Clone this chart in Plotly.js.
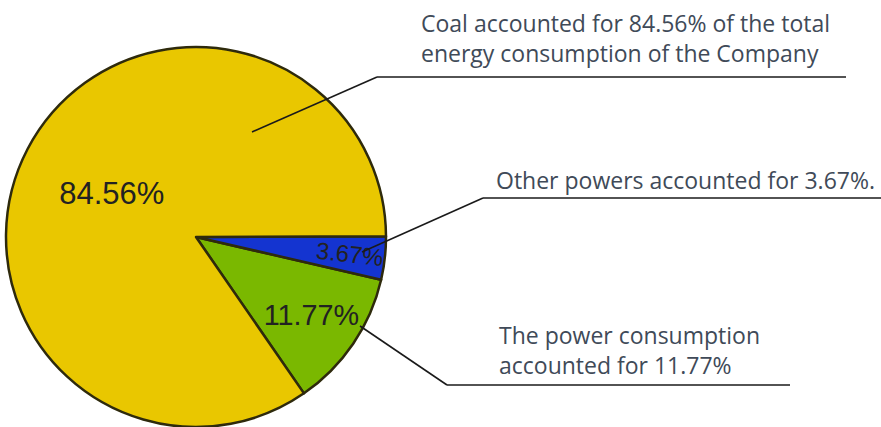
<!DOCTYPE html>
<html>
<head>
<meta charset="utf-8">
<script src="https://cdn.plot.ly/plotly-3.0.1.min.js"></script>
<style>
  html, body { margin: 0; padding: 0; background: #ffffff; }
  #chart { width: 881px; height: 427px; }
</style>
</head>
<body>
<div id="chart"></div>
<script>
// ---- data ----
var categories = ["Power consumption", "Other powers", "Coal"];
var shares = [11.77, 3.67, 84.56];
var sliceColors = ["#7AB800", "#1434D0", "#E9C700"];
var calloutTexts = [
  "Coal accounted for 84.56% of the total<br>energy consumption of the Company",
  "Other powers accounted for 3.67%.",
  "The power consumption<br>accounted for 11.77%"
];

var W = 881, H = 427;
function px(x) { return x / W; }
function py(y) { return 1 - y / H; }

var pieDomain = { x: [px(6), px(386)], y: [0, py(47)] };
var labelFont = { family: "Liberation Sans, Arial, sans-serif", size: 31, color: "#222222" };

// main pie: slices + horizontal labels for the two larger slices
var pieMain = {
  type: "pie",
  labels: categories,
  values: shares,
  sort: false,
  direction: "counterclockwise",
  rotation: 103,
  marker: { colors: sliceColors, line: { color: "#2e2a0c", width: 2.5 } },
  texttemplate: ["%{value}%", "", "%{value}%"],
  textposition: "inside",
  insidetextorientation: "horizontal",
  textfont: labelFont,
  hoverinfo: "label+percent",
  showlegend: false,
  domain: pieDomain
};

// same pie, transparent, only carrying the narrow slice's label (radial fit)
var pieLabel = {
  type: "pie",
  labels: categories,
  values: shares,
  sort: false,
  direction: "counterclockwise",
  rotation: 103,
  marker: { colors: ["rgba(0,0,0,0)", "rgba(0,0,0,0)", "rgba(0,0,0,0)"], line: { width: 0 } },
  texttemplate: ["", "%{value}%", ""],
  textposition: "inside",
  insidetextorientation: "radial",
  textfont: labelFont,
  hoverinfo: "skip",
  showlegend: false,
  domain: pieDomain
};

var lineStyle = { color: "#1a1a1a", width: 1.6 };
var shapes = [
  // coal callout
  { type: "line", xref: "paper", yref: "paper", x0: px(377), y0: py(77), x1: px(846), y1: py(77), line: lineStyle },
  { type: "line", xref: "paper", yref: "paper", x0: px(377), y0: py(77), x1: px(252), y1: py(132), line: lineStyle },
  // other powers callout
  { type: "line", xref: "paper", yref: "paper", x0: px(483), y0: py(198), x1: px(881), y1: py(198), line: lineStyle },
  { type: "line", xref: "paper", yref: "paper", x0: px(483), y0: py(198), x1: px(362), y1: py(252), line: lineStyle },
  // power consumption callout
  { type: "line", xref: "paper", yref: "paper", x0: px(447), y0: py(385), x1: px(447), y1: py(385), line: lineStyle },
  { type: "line", xref: "paper", yref: "paper", x0: px(447), y0: py(385), x1: px(790), y1: py(385), line: lineStyle },
  { type: "line", xref: "paper", yref: "paper", x0: px(447), y0: py(385), x1: px(360), y1: py(326), line: lineStyle }
];

var calloutFont = { family: "Open Sans, sans-serif", size: 23, color: "#404a58" };
var annotations = [
  { text: calloutTexts[0], xref: "paper", yref: "paper", x: px(419), y: py(38), xanchor: "left", yanchor: "middle", align: "left", showarrow: false, font: calloutFont },
  { text: calloutTexts[1], xref: "paper", yref: "paper", x: px(494), y: py(180), xanchor: "left", yanchor: "middle", align: "left", showarrow: false, font: calloutFont },
  { text: calloutTexts[2], xref: "paper", yref: "paper", x: px(497), y: py(350), xanchor: "left", yanchor: "middle", align: "left", showarrow: false, font: calloutFont }
];

var layout = {
  width: W, height: H,
  margin: { l: 0, r: 0, t: 0, b: 0 },
  paper_bgcolor: "#ffffff",
  plot_bgcolor: "#ffffff",
  shapes: shapes,
  annotations: annotations
};

Plotly.newPlot("chart", [pieMain, pieLabel], layout, { displayModeBar: false, staticPlot: true });
</script>
</body>
</html>
